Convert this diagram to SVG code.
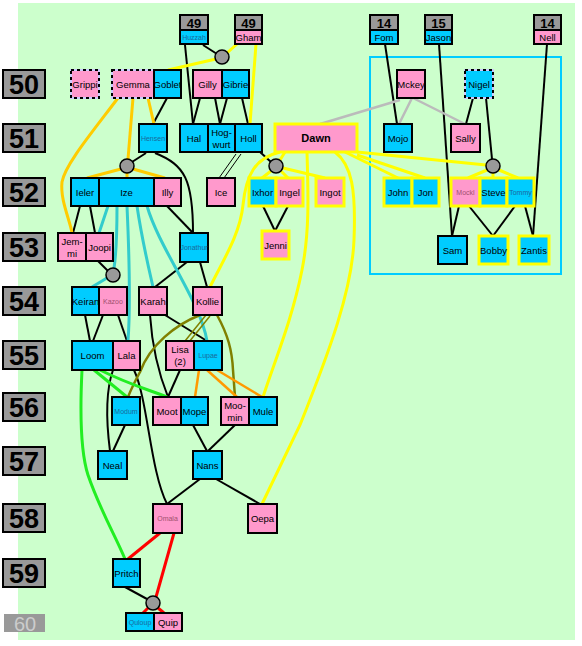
<svg xmlns="http://www.w3.org/2000/svg" width="582" height="646" viewBox="0 0 582 646">
<style>
.t{font-family:"Liberation Sans",Arial,sans-serif;font-size:9.5px;text-anchor:middle;fill:#000}
.s{font-size:7px;fill:#1a6a9a}
.sp{font-size:7px;fill:#a0506e}
.b{font-weight:bold}
.yr{font-family:"Liberation Sans",Arial,sans-serif;font-size:27px;font-weight:bold;text-anchor:middle;fill:#000}
.lab{fill:#999999;stroke:#000;stroke-width:2}
.c{fill:#00ccff;stroke:#000;stroke-width:2}
.p{fill:#ff99cc;stroke:#000;stroke-width:2}
.g{fill:#999999;stroke:#000;stroke-width:2}
.cy{fill:#00ccff;stroke:#ffff00;stroke-width:3}
.py{fill:#ff99cc;stroke:#ffff00;stroke-width:3}
.dl{fill:#ff99cc;stroke:#ccccff;stroke-width:2}
.dlc{fill:#00ccff;stroke:#ccccff;stroke-width:2}
.dd{fill:none;stroke:#000;stroke-width:2;stroke-dasharray:3 3}
.u{fill:#999999;stroke:#000;stroke-width:1.5}
.k{stroke:#000;stroke-width:2;fill:none}
.k1{stroke:#000;stroke-width:1;fill:none}
.y{stroke:#ffff00;stroke-width:3;fill:none}
.au{stroke:#ffcc00;stroke-width:3;fill:none}
.cl{stroke:#33cccc;stroke-width:3;fill:none}
.ol{stroke:#808000;stroke-width:2.5;fill:none}
.ol1{stroke:#808000;stroke-width:1.5;fill:none}
.or{stroke:#ff9900;stroke-width:2.5;fill:none}
.gr{stroke:#22ee22;stroke-width:3;fill:none}
.r{stroke:#ff0000;stroke-width:3;fill:none}
.gy{stroke:#bbbbbb;stroke-width:2.5;fill:none}
</style>
<rect x="0" y="0" width="582" height="646" fill="#ffffff"/>
<rect x="18" y="3" width="557" height="637" fill="#ccffcc"/>
<rect x="370" y="57" width="191" height="217" fill="none" stroke="#00ccff" stroke-width="2"/>

<g id="years">
<rect class="lab" x="3" y="70" width="42" height="28"/><text class="yr" x="24" y="94">50</text>
<rect class="lab" x="3" y="124" width="42" height="28"/><text class="yr" x="24" y="148">51</text>
<rect class="lab" x="3" y="178" width="42" height="28"/><text class="yr" x="24" y="202">52</text>
<rect class="lab" x="3" y="233" width="42" height="28"/><text class="yr" x="24" y="257">53</text>
<rect class="lab" x="3" y="287" width="42" height="28"/><text class="yr" x="24" y="311">54</text>
<rect class="lab" x="3" y="341" width="42" height="28"/><text class="yr" x="24" y="365">55</text>
<rect class="lab" x="3" y="393" width="42" height="28"/><text class="yr" x="24" y="417">56</text>
<rect class="lab" x="3" y="447" width="42" height="28"/><text class="yr" x="24" y="471">57</text>
<rect class="lab" x="3" y="504" width="42" height="28"/><text class="yr" x="24" y="528">58</text>
<rect class="lab" x="3" y="559" width="42" height="28"/><text class="yr" x="24" y="583">59</text>
<rect x="4" y="614" width="41" height="18" fill="#999999"/><text class="t" x="25" y="631" style="font-size:20px;fill:#cccccc">60</text>
</g>

<g id="connectors">
<path class="k" d="M203,45 L217,54"/>
<path class="k" d="M185,45 L193,124"/>
<path class="k" d="M200,98 L193,124"/>
<path class="k" d="M215,98 L220,124"/>
<path class="k" d="M227,98 L220,124"/>
<path class="k" d="M242,98 L248,124"/>
<path class="k" d="M167,98 L153,124"/>
<path class="k" d="M146,153 L132,162"/>
<path class="k" d="M155,153 C185,165 193,180 193,233"/>
<path class="k" d="M167,206 L193,233"/>
<path class="k" d="M80,206 L73,233"/>
<path class="k" d="M90,206 L95,233"/>
<path class="k" d="M98,261 L108,271"/>
<path class="k" d="M187,262 L155,287"/>
<path class="k" d="M200,262 L207,287"/>
<path class="k" d="M260,152 L271,162"/>
<path class="k1" d="M236,154 L219,178"/>
<path class="k1" d="M241,154 L224,178"/>
<path class="k" d="M263,206 L275,231"/>
<path class="k" d="M288,206 L275,231"/>
<path class="k" d="M385,44 L397,124"/>
<path class="k" d="M439,44 L452,236"/>
<path class="k" d="M547,44 L533,236"/>
<path class="k" d="M486,98 L492,159"/>
<path class="k" d="M473,98 L466,124"/>
<path class="k" d="M459,206 L452,236"/>
<path class="k" d="M469,206 L493,236"/>
<path class="k" d="M515,206 L493,236"/>
<path class="k" d="M525,206 L533,236"/>
<path class="k" d="M85,315 L90,341"/>
<path class="k" d="M103,315 L93,341"/>
<path class="k" d="M118,315 L127,341"/>
<path class="k" d="M165,315 L207,341"/>
<path class="k" d="M150,315 C152,345 158,372 168,397"/>
<path class="k" d="M180,370 L168,397"/>
<path class="k" d="M113,370 C106,390 106,420 110,451"/>
<path class="k" d="M134,370 C148,400 150,470 167,504"/>
<path class="k" d="M125,425 L113,451"/>
<path class="k" d="M193,425 L207,451"/>
<path class="k" d="M235,425 L208,451"/>
<path class="k" d="M200,479 L167,504"/>
<path class="k" d="M216,479 L260,504"/>
<path class="k" d="M125,587 L147,599"/>

<path class="gy" d="M412,98 L399,124"/>
<path class="gy" d="M413,98 L465,124"/>
<path class="gy" d="M400,100 L320,124"/>

<path class="y" d="M237,44 L227,53"/>
<path class="y" d="M256,44 L250,124"/>
<path class="y" d="M216,59 L168,70"/>
<path class="y" d="M285,152 L280,160"/>
<path class="y" d="M271,171 L262,178"/>
<path class="y" d="M281,171 L288,178"/>
<path class="y" d="M283,168 L325,178"/>
<path class="y" d="M280,152 C255,158 246,175 243,205 C240,235 222,262 210,287"/>
<path class="y" d="M307,152 C308,190 310,230 302,270 C292,320 275,360 263,397"/>
<path class="y" d="M335,152 C352,165 356,190 354,240 C352,290 330,350 300,425 L262,504"/>
<path class="y" d="M357,152 L486,165"/>
<path class="y" d="M345,152 L398,178"/>
<path class="y" d="M357,155 L425,178"/>
<path class="y" d="M487,170 L468,178"/>
<path class="y" d="M493,173 L493,178"/>
<path class="y" d="M499,170 L518,178"/>

<path class="au" d="M148,98 L154,124"/>
<path class="au" d="M133,98 L128,159"/>
<path class="au" d="M118,98 C90,135 65,165 62,182 C60,200 70,220 72,233"/>
<path class="au" d="M121,169 L87,178"/>
<path class="au" d="M127,173 L127,178"/>
<path class="au" d="M133,169 L165,178"/>

<path class="cl" d="M108,206 L99,233"/>
<path class="cl" d="M117,206 C117,230 116,255 114,268"/>
<path class="cl" d="M107,278 L92,287"/>
<path class="cl" d="M127,206 C129,250 131,300 128,341"/>
<path class="cl" d="M137,206 C142,240 148,265 153,287"/>
<path class="cl" d="M147,206 C160,250 200,300 207,341"/>

<path class="ol" d="M200,315 C175,325 150,345 140,372 C133,385 130,392 128,397"/>
<path class="ol1" d="M206,315 L185,341"/>
<path class="ol1" d="M210,316 L189,342"/>
<path class="ol" d="M217,315 C228,335 232,350 233,370 L235,397"/>

<path class="or" d="M199,370 L195,397"/>
<path class="or" d="M207,370 L237,397"/>
<path class="or" d="M217,370 L262,397"/>

<path class="gr" d="M94,370 L127,397"/>
<path class="gr" d="M100,370 C130,385 150,390 167,397"/>
<path class="gr" d="M82,370 C80,410 80,450 88,475 C100,510 115,535 125,559"/>

<path class="r" d="M160,533 L128,559"/>
<path class="r" d="M174,533 L156,597"/>
<path class="r" d="M148,608 L143,613"/>
<path class="r" d="M158,608 L164,613"/>
</g>

<g id="unions">
<circle class="u" cx="222" cy="57" r="7"/>
<circle class="u" cx="127" cy="166" r="7"/>
<circle class="u" cx="276" cy="166" r="7"/>
<circle class="u" cx="493" cy="166" r="7"/>
<circle class="u" cx="113" cy="275" r="7"/>
<circle class="u" cx="153" cy="603" r="7"/>
</g>

<g id="n-huzzah"><rect class="g" x="180" y="15" width="28" height="15"/><rect class="c" x="180" y="30" width="28" height="14"/><text class="t b" x="194" y="28" style="font-size:13px">49</text><text class="t s" x="194" y="40">Huzzah</text></g>
<g id="n-gham"><rect class="g" x="235" y="15" width="27" height="15"/><rect class="p" x="235" y="30" width="27" height="14"/><text class="t b" x="248.5" y="28" style="font-size:13px">49</text><text class="t" x="248.5" y="41">Gham</text></g>
<g id="n-fom"><rect class="g" x="370" y="15" width="28" height="15"/><rect class="c" x="370" y="30" width="28" height="14"/><text class="t b" x="384" y="28" style="font-size:13px">14</text><text class="t" x="384" y="41">Fom</text></g>
<g id="n-jason"><rect class="g" x="425" y="15" width="27" height="15"/><rect class="c" x="425" y="30" width="27" height="14"/><text class="t b" x="438.5" y="28" style="font-size:13px">15</text><text class="t" x="438.5" y="41">Jason</text></g>
<g id="n-nell"><rect class="g" x="534" y="15" width="27" height="15"/><rect class="p" x="534" y="30" width="27" height="14"/><text class="t b" x="547.5" y="28" style="font-size:13px">14</text><text class="t" x="547.5" y="41">Nell</text></g>

<g id="n-grippi"><rect class="dl" x="71" y="70" width="28" height="28"/><rect class="dd" x="71" y="70" width="28" height="28"/><text class="t" x="85" y="88">Grippi</text></g>
<g id="n-gemma"><rect class="dl" x="112" y="70" width="42" height="28"/><rect class="dd" x="112" y="70" width="42" height="28"/><text class="t" x="133" y="88">Gemma</text></g>
<g id="n-goblet"><rect class="c" x="154" y="70" width="27" height="28"/><text class="t" x="167.5" y="88">Goblet</text></g>
<g id="n-gilly"><rect class="p" x="193" y="70" width="29" height="28"/><text class="t" x="207.5" y="88">Gilly</text></g>
<g id="n-gibrie"><rect class="c" x="222" y="70" width="27" height="28"/><text class="t" x="235.5" y="88">Gibrie</text></g>
<g id="n-mckey"><rect class="p" x="397" y="70" width="28" height="28"/><text class="t" x="411" y="88">Mckey</text></g>
<g id="n-nigel"><rect class="dlc" x="465" y="70" width="28" height="28"/><rect class="dd" x="465" y="70" width="28" height="28"/><text class="t" x="479" y="88">Nigel</text></g>

<g id="n-hensen"><rect class="c" x="139" y="124" width="28" height="28"/><text class="t s" x="153" y="141">Hensen</text></g>
<g id="n-hal"><rect class="c" x="180" y="124" width="28" height="28"/><text class="t" x="194" y="142">Hal</text></g>
<g id="n-hogwurt"><rect class="c" x="208" y="124" width="27" height="28"/><text class="t" x="221.5" y="136">Hog-</text><text class="t" x="221.5" y="148">wurt</text></g>
<g id="n-holl"><rect class="c" x="235" y="124" width="27" height="28"/><text class="t" x="248.5" y="142">Holl</text></g>
<g id="n-dawn"><rect class="py" x="275" y="124" width="82" height="28"/><text class="t b" x="316" y="142" style="font-size:11px">Dawn</text></g>
<g id="n-mojo"><rect class="c" x="384" y="124" width="28" height="28"/><text class="t" x="398" y="142">Mojo</text></g>
<g id="n-sally"><rect class="p" x="451" y="124" width="29" height="28"/><text class="t" x="465.5" y="142">Sally</text></g>

<g id="n-ieler"><rect class="c" x="71" y="178" width="28" height="28"/><text class="t" x="85" y="196">Ieler</text></g>
<g id="n-ize"><rect class="c" x="99" y="178" width="55" height="28"/><text class="t" x="126.5" y="196">Ize</text></g>
<g id="n-illy"><rect class="p" x="154" y="178" width="27" height="28"/><text class="t" x="167.5" y="196">Illy</text></g>
<g id="n-ice"><rect class="p" x="207" y="178" width="28" height="28"/><text class="t" x="221" y="196">Ice</text></g>
<g id="n-ixhor"><rect class="cy" x="249" y="178" width="27" height="28"/><text class="t" x="262.5" y="196">Ixhor</text></g>
<g id="n-ingel"><rect class="py" x="276" y="178" width="27" height="28"/><text class="t" x="289.5" y="196">Ingel</text></g>
<g id="n-ingot"><rect class="py" x="316" y="178" width="28" height="28"/><text class="t" x="330" y="196">Ingot</text></g>
<g id="n-john"><rect class="cy" x="384" y="178" width="28" height="28"/><text class="t" x="398" y="196">John</text></g>
<g id="n-jon"><rect class="cy" x="412" y="178" width="27" height="28"/><text class="t" x="425.5" y="196">Jon</text></g>
<g id="n-mockl"><rect class="py" x="451" y="178" width="29" height="28"/><text class="t sp" x="465.5" y="195">Mockl</text></g>
<g id="n-steve"><rect class="cy" x="480" y="178" width="27" height="28"/><text class="t" x="493.5" y="196">Steve</text></g>
<g id="n-tommy"><rect class="cy" x="507" y="178" width="27" height="28"/><text class="t s" x="520.5" y="195">Tommy</text></g>

<g id="n-jemmi"><rect class="p" x="58" y="233" width="28" height="28"/><text class="t" x="72" y="245">Jem-</text><text class="t" x="72" y="257">mi</text></g>
<g id="n-joopi"><rect class="p" x="86" y="233" width="27" height="28"/><text class="t" x="99.5" y="251">Joopi</text></g>
<g id="n-jonathur"><rect class="c" x="180" y="233" width="28" height="29"/><text class="t s" x="194" y="250">Jonathur</text></g>
<g id="n-jenni"><rect class="py" x="262" y="231" width="27" height="28"/><text class="t" x="275.5" y="249">Jenni</text></g>
<g id="n-sam"><rect class="c" x="438" y="236" width="29" height="28"/><text class="t" x="452.5" y="254">Sam</text></g>
<g id="n-bobby"><rect class="cy" x="479" y="236" width="29" height="28"/><text class="t" x="493.5" y="254">Bobby</text></g>
<g id="n-zantis"><rect class="cy" x="519" y="236" width="30" height="28"/><text class="t" x="534" y="254">Zantis</text></g>

<g id="n-keiran"><rect class="c" x="72" y="287" width="27" height="28"/><text class="t" x="85.5" y="305">Keiran</text></g>
<g id="n-kazoo"><rect class="p" x="99" y="287" width="28" height="28"/><text class="t sp" x="113" y="304">Kazoo</text></g>
<g id="n-karah"><rect class="p" x="139" y="287" width="28" height="28"/><text class="t" x="153" y="305">Karah</text></g>
<g id="n-kollie"><rect class="p" x="193" y="287" width="29" height="28"/><text class="t" x="207.5" y="305">Kollie</text></g>

<g id="n-loom"><rect class="c" x="72" y="341" width="41" height="29"/><text class="t" x="92.5" y="359">Loom</text></g>
<g id="n-lala"><rect class="p" x="113" y="341" width="27" height="29"/><text class="t" x="126.5" y="359">Lala</text></g>
<g id="n-lisa"><rect class="p" x="166" y="341" width="28" height="29"/><text class="t" x="180" y="353">Lisa</text><text class="t" x="180" y="365">(2)</text></g>
<g id="n-lupae"><rect class="c" x="194" y="341" width="28" height="29"/><text class="t s" x="208" y="358">Lupae</text></g>

<g id="n-modum"><rect class="c" x="112" y="397" width="28" height="28"/><text class="t s" x="126" y="414">Modum</text></g>
<g id="n-moot"><rect class="p" x="153" y="397" width="28" height="28"/><text class="t" x="167" y="415">Moot</text></g>
<g id="n-mope"><rect class="c" x="181" y="397" width="27" height="28"/><text class="t" x="194.5" y="415">Mope</text></g>
<g id="n-moomin"><rect class="p" x="221" y="397" width="28" height="28"/><text class="t" x="235" y="409">Moo-</text><text class="t" x="235" y="421">min</text></g>
<g id="n-mule"><rect class="c" x="249" y="397" width="28" height="28"/><text class="t" x="263" y="415">Mule</text></g>

<g id="n-neal"><rect class="c" x="98" y="451" width="29" height="28"/><text class="t" x="112.5" y="469">Neal</text></g>
<g id="n-nans"><rect class="c" x="193" y="451" width="29" height="28"/><text class="t" x="207.5" y="469">Nans</text></g>
<g id="n-omala"><rect class="p" x="153" y="504" width="29" height="29"/><text class="t sp" x="167.5" y="521">Omala</text></g>
<g id="n-oepa"><rect class="p" x="248" y="504" width="29" height="29"/><text class="t" x="262.5" y="522">Oepa</text></g>
<g id="n-pritch"><rect class="c" x="113" y="559" width="27" height="28"/><text class="t" x="126.5" y="577">Pritch</text></g>
<g id="n-quloup"><rect class="c" x="126" y="613" width="28" height="18"/><text class="t s" x="140" y="625">Quloup</text></g>
<g id="n-quip"><rect class="p" x="154" y="613" width="28" height="18"/><text class="t" x="168" y="626">Quip</text></g>
</svg>
